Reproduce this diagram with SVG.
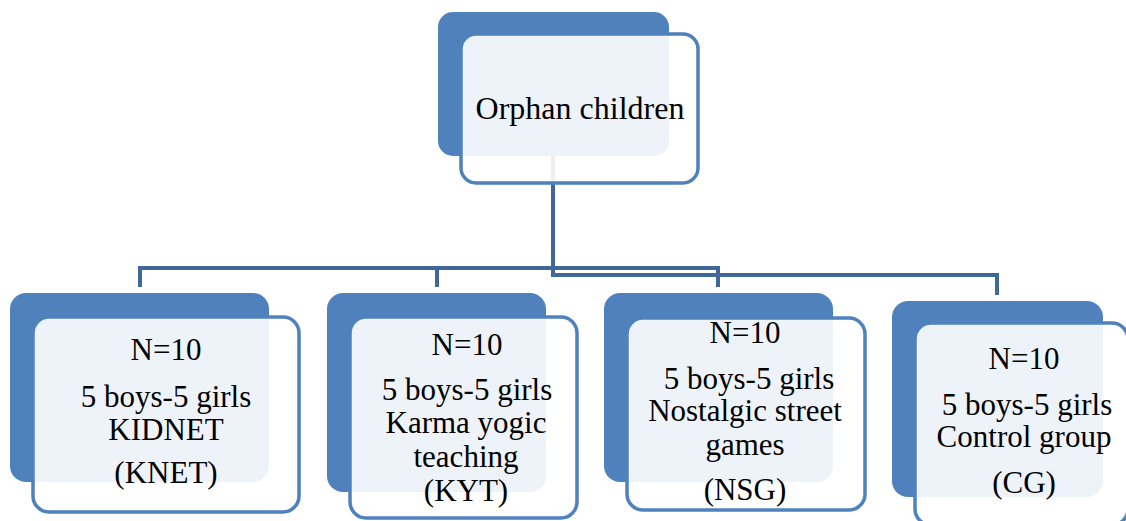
<svg xmlns="http://www.w3.org/2000/svg" width="1126" height="521" viewBox="0 0 1126 521">
<style>
.back{fill:#4F81BD}
.front{fill:#FFFFFF;fill-opacity:0.9;stroke:#4F81BD;stroke-width:3.5}
.conn{fill:none;stroke:#3F6899;stroke-width:4;stroke-linejoin:miter}
text{font-family:"Liberation Serif","Times New Roman",serif;font-size:31px;fill:#000;text-anchor:middle}
</style>
<rect width="1126" height="521" fill="#FFFFFF"/>
<g id="connectors">
<path class="conn" d="M553,156 V268 H140 V287"/>
<path class="conn" d="M553,156 V268 H437 V287"/>
<path class="conn" d="M553,156 V268 H718 V287"/>
<path class="conn" d="M553,156 V275 H997 V295"/>
</g>
<g id="node-root">
<rect class="back" x="438" y="12" width="231" height="144" rx="15"/>
<rect class="front" x="461" y="34" width="237" height="149" rx="15"/>
<text x="580" y="119" style="font-size:32px">Orphan children</text>
</g>
<g id="node-knet">
<rect class="back" x="10" y="293" width="259" height="189" rx="16"/>
<rect class="front" x="33" y="317" width="266" height="195" rx="16"/>
<text x="166" y="360">N=10</text>
<text x="166" y="407">5 boys-5 girls</text>
<text x="166" y="440">KIDNET</text>
<text x="166" y="483">(KNET)</text>
</g>
<g id="node-kyt">
<rect class="back" x="327" y="293" width="219" height="199" rx="16"/>
<rect class="front" x="350" y="317" width="227" height="201" rx="16"/>
<text x="467" y="355">N=10</text>
<text x="467" y="400">5 boys-5 girls</text>
<text x="466" y="433">Karma yogic</text>
<text x="466" y="467">teaching</text>
<text x="466" y="501">(KYT)</text>
</g>
<g id="node-nsg">
<rect class="back" x="604" y="293" width="229" height="189" rx="16"/>
<rect class="front" x="627" y="318" width="238" height="192" rx="16"/>
<text x="745" y="343">N=10</text>
<text x="749" y="389">5 boys-5 girls</text>
<text x="745" y="421">Nostalgic street</text>
<text x="745" y="455">games</text>
<text x="745" y="500">(NSG)</text>
</g>
<g id="node-cg">
<rect class="back" x="892" y="301" width="211" height="196" rx="16"/>
<rect class="front" x="915" y="323" width="213" height="202" rx="16"/>
<text x="1024" y="369">N=10</text>
<text x="1027" y="415">5 boys-5 girls</text>
<text x="1024" y="447">Control group</text>
<text x="1024" y="493">(CG)</text>
</g>
</svg>
